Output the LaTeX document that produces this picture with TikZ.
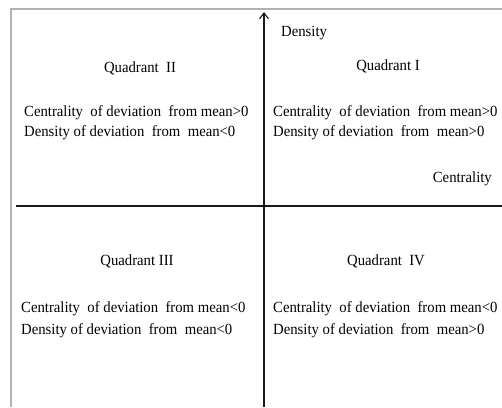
\documentclass[tikz,border=0pt]{standalone}
\usepackage{fontspec}
\setmainfont[FakeStretch=0.95]{Liberation Serif}
\usetikzlibrary{arrows.meta}
\begin{document}
\begin{tikzpicture}[x=1pt,y=-1pt,
  frame/.style={draw=black!30,line width=1.5pt},
  axis/.style={draw=black!90,line width=1.1pt},
  lbl/.style={inner sep=0pt,font=\fontsize{15.5}{18}\selectfont},
  txt/.style={lbl,anchor=west}]
\useasboundingbox (0,0) rectangle (502,407);
\draw[frame] (11,407) -- (11,9) -- (502,9);
\coordinate (L) at (16,206);
\coordinate (R) at (502,206);
\coordinate (B) at (264,407);
\coordinate (T) at (264,12);
\draw[axis] (L) -- (R);
\draw[axis,-{Straight Barb[length=6pt,width=9pt]}] (B) -- (T);
\node[lbl,anchor=west] (dens) at (281,33) {Density};
\node[lbl,anchor=east] (cent) at (492,179) {Centrality};
\node[lbl] (q2) at (140,68) {Quadrant\ \ II};
\node[txt] (q2a) at (24,113) {Centrality\ \ of deviation\ \ from mean>0};
\node[txt] (q2b) at (24,133) {Density of deviation\ \ from\ \ mean<0};
\node[lbl] (q1) at (388,66) {Quadrant I};
\node[txt] (q1a) at (273,113) {Centrality\ \ of deviation\ \ from mean>0};
\node[txt] (q1b) at (273,133) {Density of deviation\ \ from\ \ mean>0};
\node[lbl] (q3) at (137,261) {Quadrant III};
\node[txt] (q3a) at (21,309) {Centrality\ \ of deviation\ \ from mean<0};
\node[txt] (q3b) at (21,331) {Density\ of deviation\ \ from\ \ mean<0};
\node[lbl] (q4) at (386,261) {Quadrant\ \ IV};
\node[txt] (q4a) at (273,309) {Centrality\ \ of deviation\ \ from mean<0};
\node[txt] (q4b) at (273,331) {Density\ of deviation\ \ from\ \ mean>0};
\end{tikzpicture}
\end{document}
